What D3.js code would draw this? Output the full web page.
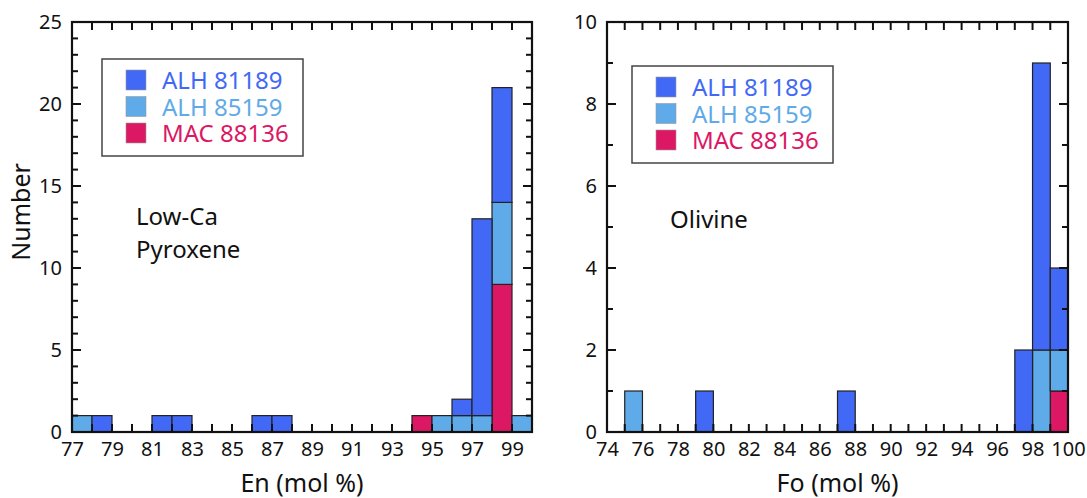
<!DOCTYPE html>
<html><head><meta charset="utf-8">
<script src="https://cdn.jsdelivr.net/npm/d3@7"></script>
<style>body{margin:0;background:#fff}svg{display:block}text{font-family:"Noto Sans",sans-serif}</style>
</head><body><svg id="c" width="1087" height="498"></svg>
<script>
// ---- data ----
const seriesNames = ["ALH 81189", "ALH 85159", "MAC 88136"];
const seriesColors = ["#4169f6", "#5faae8", "#dc1764"];
// Low-Ca pyroxene (En mol %), bins of width 1 starting at 77
const enBins = [77,78,79,80,81,82,83,84,85,86,87,88,89,90,91,92,93,94,95,96,97,98,99];
const en81189 = [0,1,0,0,1,1,0,0,0,1,1,0,0,0,0,0,0,0,0,1,12,7,0];
const en85159 = [1,0,0,0,0,0,0,0,0,0,0,0,0,0,0,0,0,0,1,1,1,5,1];
const enMAC   = [0,0,0,0,0,0,0,0,0,0,0,0,0,0,0,0,0,1,0,0,0,9,0];
const enTicks = [77,79,81,83,85,87,89,91,93,95,97,99];
const enYTicks = [0,5,10,15,20,25];
// Olivine (Fo mol %), bins of width 1 starting at 74
const foBins = [74,75,76,77,78,79,80,81,82,83,84,85,86,87,88,89,90,91,92,93,94,95,96,97,98,99];
const fo81189 = [0,0,0,0,0,1,0,0,0,0,0,0,0,1,0,0,0,0,0,0,0,0,0,2,7,2];
const fo85159 = [0,1,0,0,0,0,0,0,0,0,0,0,0,0,0,0,0,0,0,0,0,0,0,0,2,1];
const foMAC   = [0,0,0,0,0,0,0,0,0,0,0,0,0,0,0,0,0,0,0,0,0,0,0,0,0,1];
const foTicks = [74,76,78,80,82,84,86,88,90,92,94,96,98,100];
const foYTicks = [0,2,4,6,8,10];

const svg = d3.select("#c");

function panel(o){
  const x = d3.scaleLinear().domain(o.xDom).range([o.x0,o.x1]);
  const y = d3.scaleLinear().domain(o.yDom).range([432,22]);
  const rows = o.bins.map((b,i)=>({bin:b, a:o.s[0][i], b:o.s[1][i], c:o.s[2][i]}));
  const stack = d3.stack().keys(["c","b","a"])(rows); // bottom: MAC, then 85159, then 81189
  const colorFor = {a:seriesColors[0], b:seriesColors[1], c:seriesColors[2]};
  const g = svg.append("g");
  stack.forEach(layer=>{
    g.selectAll(null).data(layer.filter(d=>d[1]>d[0])).join("rect")
      .attr("x",d=>x(d.data.bin)).attr("width",d=>x(d.data.bin+1)-x(d.data.bin))
      .attr("y",d=>y(d[1])).attr("height",d=>y(d[0])-y(d[1]))
      .attr("fill",colorFor[layer.key]).attr("stroke","#222").attr("stroke-width",1.2);
  });
  // ticks every 1 unit inward on all sides
  const xt = d3.range(o.xDom[0], o.xDom[1]+1);
  const yt = d3.range(o.yDom[0], o.yDom[1]+1);
  const tk = svg.append("g").attr("stroke","#111").attr("stroke-width",2);
  xt.forEach(v=>{
    const L = 8;
    tk.append("line").attr("x1",x(v)).attr("x2",x(v)).attr("y1",432).attr("y2",432-L);
    tk.append("line").attr("x1",x(v)).attr("x2",x(v)).attr("y1",22).attr("y2",22+L);
  });
  yt.forEach(v=>{
    const L = o.yLab.includes(v) ? 9 : 6;
    tk.append("line").attr("x1",o.x0).attr("x2",o.x0+L).attr("y1",y(v)).attr("y2",y(v));
    tk.append("line").attr("x1",o.x1).attr("x2",o.x1-L).attr("y1",y(v)).attr("y2",y(v));
  });
  svg.append("rect").attr("x",o.x0).attr("y",22).attr("width",o.x1-o.x0).attr("height",410)
    .attr("fill","none").attr("stroke","#111").attr("stroke-width",2.2);
  // labels via axis generators (no lines)
  const ax = svg.append("g").attr("transform","translate(0,432)")
    .call(d3.axisBottom(x).tickValues(o.xLab).tickFormat(d3.format("d")).tickSize(0).tickPadding(10));
  ax.select(".domain").remove();
  ax.selectAll("text").attr("font-size",20).attr("fill","#111").style("font-family","'Noto Sans',sans-serif");
  const ay = svg.append("g").attr("transform",`translate(${o.x0},0)`)
    .call(d3.axisLeft(y).tickValues(o.yLab).tickFormat(d3.format("d")).tickSize(0).tickPadding(10));
  ay.select(".domain").remove();
  ay.selectAll("text").attr("font-size",20).attr("fill","#111").style("font-family","'Noto Sans',sans-serif");
  // x title
  svg.append("text").attr("x",(o.x0+o.x1)/2).attr("y",492).attr("text-anchor","middle")
    .attr("font-size",25).attr("fill","#111").text(o.xTitle);
  // legend
  const lg = svg.append("g");
  lg.append("rect").attr("x",o.lx).attr("y",o.ly).attr("width",201).attr("height",97)
    .attr("fill","#fff").attr("stroke","#444").attr("stroke-width",1.5);
  seriesNames.forEach((n,i)=>{
    const cy = o.ly+21+i*26.5;
    lg.append("rect").attr("x",o.lx+24).attr("y",cy-10).attr("width",20).attr("height",20)
      .attr("fill",seriesColors[i]).attr("stroke","#999").attr("stroke-width",0.6);
    lg.append("text").attr("x",o.lx+60).attr("y",cy+9).attr("font-size",24)
      .attr("fill",seriesColors[i]).text(n);
  });
  // annotation
  o.note.forEach((t,i)=>{
    svg.append("text").attr("x",o.nx).attr("y",o.ny+i*33).attr("font-size",24).attr("fill","#111").text(t);
  });
}

panel({xDom:[77,100], yDom:[0,25], x0:72, x1:532, bins:enBins, s:[en81189,en85159,enMAC],
  xLab:enTicks, yLab:enYTicks, xTitle:"En (mol %)", lx:102, ly:59, note:["Low-Ca","Pyroxene"], nx:136, ny:225});
panel({xDom:[74,100], yDom:[0,10], x0:607, x1:1068, bins:foBins, s:[fo81189,fo85159,foMAC],
  xLab:foTicks, yLab:foYTicks, xTitle:"Fo (mol %)", lx:632, ly:66, note:["Olivine"], nx:670, ny:228});

svg.append("text").attr("transform","translate(30,212) rotate(-90)").attr("text-anchor","middle")
  .attr("font-size",25).attr("fill","#111").text("Number");
</script></body></html>
